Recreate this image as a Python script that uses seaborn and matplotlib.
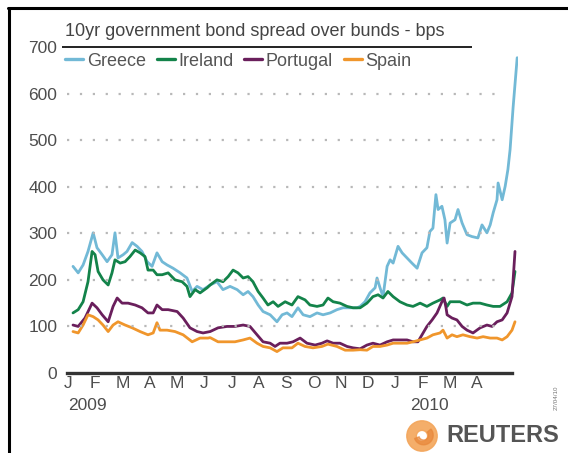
import numpy as np
import pandas as pd
import matplotlib
matplotlib.use("Agg")
import matplotlib.pyplot as plt
from matplotlib.lines import Line2D
from matplotlib.patches import Wedge, Circle
import seaborn as sns

# x = months since start of Jan 2009 (month-label positions), y = spread in bps
greece_t = [0.18, 0.37, 0.55, 0.73, 0.92, 1.06, 1.25, 1.43, 1.61, 1.72, 1.83, 2.02, 2.16, 2.35, 2.53,
            2.71, 2.90, 3.08, 3.26, 3.45, 3.63, 3.85, 4.11, 4.36, 4.55, 4.73, 4.95, 5.21, 5.46, 5.68,
            5.94, 6.20, 6.42, 6.60, 6.78, 6.97, 7.15, 7.41, 7.66, 7.85, 8.03, 8.21, 8.43, 8.62, 8.87,
            9.13, 9.35, 9.61, 9.86, 10.08, 10.34, 10.60, 10.71, 10.89, 11.07, 11.26, 11.33, 11.44, 11.55,
            11.70, 11.81, 11.92, 12.10, 12.25, 12.43, 12.61, 12.80, 12.98, 13.16, 13.27, 13.38, 13.49,
            13.57, 13.71, 13.82, 13.90, 14.01, 14.19, 14.30, 14.45, 14.63, 14.81, 15.03, 15.18, 15.36,
            15.48, 15.59, 15.73, 15.77, 15.92, 16.03, 16.13, 16.21, 16.32, 16.47]
greece_bps = [229, 215, 232, 261, 301, 269, 254, 239, 254, 301, 247, 254, 261, 280, 272,
              261, 239, 229, 258, 239, 232, 225, 215, 204, 175, 186, 179, 189, 196, 179,
              186, 179, 168, 175, 164, 146, 132, 125, 110, 125, 129, 121, 140, 125, 121,
              129, 125, 129, 136, 140, 140, 140, 143, 153, 172, 183, 204, 183, 164,
              229, 243, 236, 272, 258, 247, 236, 225, 258, 269, 304, 311, 383,
              351, 358, 329, 279, 322, 329, 351, 322, 297, 293, 290, 318, 301,
              318, 344, 372, 408, 372, 401, 437, 480, 570, 677]

ireland_t = [0.18, 0.37, 0.55, 0.73, 0.88, 0.99, 1.10, 1.28, 1.47, 1.61, 1.72, 1.91, 2.09, 2.27, 2.46,
             2.64, 2.82, 2.93, 3.12, 3.26, 3.45, 3.67, 3.92, 4.18, 4.36, 4.47, 4.66, 4.84, 5.10, 5.21,
             5.46, 5.68, 5.87, 6.05, 6.23, 6.42, 6.60, 6.78, 6.97, 7.15, 7.33, 7.52, 7.70, 7.96, 8.21,
             8.43, 8.69, 8.87, 9.13, 9.35, 9.53, 9.72, 9.97, 10.23, 10.45, 10.71, 10.96, 11.18, 11.37,
             11.55, 11.73, 11.92, 12.17, 12.43, 12.65, 12.91, 13.16, 13.38, 13.64, 13.75, 13.90, 14.01,
             14.19, 14.37, 14.63, 14.85, 15.11, 15.36, 15.59, 15.84, 16.10, 16.28, 16.39]
ireland_bps = [129, 136, 153, 196, 261, 254, 218, 200, 189, 215, 243, 236, 239, 250, 264,
               258, 250, 221, 221, 211, 211, 215, 200, 196, 186, 164, 179, 172, 183, 189,
               200, 196, 207, 221, 215, 204, 207, 196, 175, 161, 146, 153, 143, 153, 146,
               164, 157, 146, 143, 146, 161, 153, 150, 143, 140, 140, 150, 164, 168,
               161, 175, 164, 153, 146, 143, 150, 143, 150, 157, 161, 143, 153,
               153, 153, 146, 150, 150, 146, 143, 143, 153, 172, 218]

portugal_t = [0.18, 0.37, 0.62, 0.88, 1.06, 1.25, 1.47, 1.65, 1.80, 1.98, 2.20, 2.46, 2.71, 2.93, 3.12,
              3.26, 3.45, 3.67, 4.00, 4.22, 4.47, 4.73, 4.95, 5.21, 5.50, 5.83, 6.12, 6.42, 6.67, 6.93,
              7.15, 7.41, 7.59, 7.77, 8.03, 8.25, 8.51, 8.76, 9.06, 9.31, 9.50, 9.72, 9.97, 10.23, 10.45,
              10.71, 10.96, 11.18, 11.44, 11.70, 11.92, 12.17, 12.43, 12.65, 12.83, 13.02, 13.16, 13.35,
              13.53, 13.71, 13.79, 13.86, 13.90, 14.08, 14.26, 14.45, 14.63, 14.85, 15.11, 15.36, 15.55,
              15.73, 15.92, 16.10, 16.28, 16.39]
portugal_bps = [103, 100, 118, 150, 140, 125, 110, 143, 161, 150, 150, 146, 140, 129, 129,
                146, 136, 136, 132, 118, 97, 89, 86, 89, 97, 100, 100, 103, 100, 82,
                67, 64, 57, 64, 64, 67, 75, 64, 60, 64, 69, 64, 64, 57, 54,
                52, 60, 64, 60, 67, 71, 71, 71, 67, 67, 86, 100, 114,
                129, 153, 161, 140, 125, 118, 114, 100, 92, 86, 97, 103, 100,
                110, 114, 129, 164, 261]

spain_t = [0.18, 0.37, 0.55, 0.73, 0.92, 1.10, 1.28, 1.47, 1.65, 1.83, 2.09, 2.35, 2.64, 2.93, 3.12,
           3.26, 3.37, 3.63, 3.92, 4.22, 4.55, 4.84, 5.13, 5.21, 5.50, 5.83, 6.12, 6.42, 6.67, 6.93,
           7.15, 7.41, 7.66, 7.88, 8.21, 8.43, 8.69, 8.98, 9.31, 9.53, 9.86, 10.16, 10.45, 10.71, 10.96,
           11.18, 11.44, 11.70, 11.92, 12.17, 12.43, 12.65, 12.91, 13.16, 13.38, 13.64, 13.75, 13.90,
           14.08, 14.26, 14.48, 14.74, 15.00, 15.22, 15.48, 15.73, 15.92, 16.10, 16.28, 16.39]
spain_bps = [89, 86, 103, 125, 121, 114, 103, 89, 103, 110, 103, 97, 89, 82, 86,
             108, 92, 92, 89, 82, 67, 75, 75, 76, 67, 67, 67, 71, 75, 64,
             57, 54, 46, 54, 54, 64, 57, 54, 57, 62, 57, 49, 49, 50, 49,
             57, 57, 60, 64, 64, 64, 67, 71, 75, 82, 86, 92, 75,
             82, 78, 82, 78, 75, 78, 75, 75, 71, 78, 92, 110]

countries = ["Greece", "Ireland", "Portugal", "Spain"]
colors = {"Greece": "#72b9d6", "Ireland": "#13834a", "Portugal": "#6a1f5c", "Spain": "#f0962c"}

month_labels = ["J", "F", "M", "A", "M", "J", "J", "A", "S", "O", "N", "D", "J", "F", "M", "A"]
y_ticks = [0, 100, 200, 300, 400, 500, 600, 700]
title = "10yr government bond spread over bunds - bps"

frames = []
for name, t, v in [("Greece", greece_t, greece_bps), ("Ireland", ireland_t, ireland_bps),
                   ("Portugal", portugal_t, portugal_bps), ("Spain", spain_t, spain_bps)]:
    frames.append(pd.DataFrame({"t": t, "bps": v, "country": name}))
df = pd.concat(frames, ignore_index=True)

sns.set_style("white")
plt.rcParams["font.family"] = ["Liberation Sans", "DejaVu Sans"]

W, H = 568, 453
fig = plt.figure(figsize=(W / 100, H / 100), dpi=100)
fig.patch.set_facecolor("white")

def fx(px):
    return px / W

def fy(py):
    return 1 - py / H

ax = fig.add_axes([fx(67), fy(373), fx(518) - fx(67), fy(47) - fy(373)])
sns.lineplot(data=df, x="t", y="bps", hue="country", hue_order=countries, palette=colors,
             estimator=None, sort=False, linewidth=2.0, ax=ax, legend=False)

ax.set_xlim(-0.04, 16.5)
ax.set_ylim(0, 700)
for s in ["left", "right", "top"]:
    ax.spines[s].set_visible(False)
ax.spines["bottom"].set_color("#333333")
ax.spines["bottom"].set_linewidth(2.4)
ax.spines["bottom"].set_bounds(-0.04, 16.28)

tick_color = "#4d4d4d"
ax.set_xlabel("")
ax.set_ylabel("")
ax.set_yticks(y_ticks)
ax.set_yticklabels([str(v) for v in y_ticks], fontsize=12.5, color=tick_color)
ax.tick_params(axis="y", length=0, pad=7)
ax.set_xticks(range(len(month_labels)))
ax.set_xticklabels(month_labels, fontsize=12.5, color=tick_color)
ax.tick_params(axis="x", length=0, pad=2)

for v in y_ticks[1:-1]:
    ax.hlines(v, -0.04, 16.0, colors="#b8b8b8", linewidth=1.6, linestyles=(0, (1, 4.8)))
ax.hlines(700, -0.22, 14.81, colors="#222222", linewidth=1.4, clip_on=False)

ax.text(0.7, -0.1, "2009", transform=ax.get_xaxis_transform(), ha="center", va="center",
        fontsize=12.5, color=tick_color)
ax.text(13.27, -0.1, "2010", transform=ax.get_xaxis_transform(), ha="center", va="center",
        fontsize=12.5, color=tick_color)

fig.text(fx(65), fy(32), title, fontsize=13, color="#444444", ha="left", va="center")

handles = [Line2D([0], [0], color=colors[c], lw=2.4) for c in countries]
leg = fig.legend(handles, countries, loc="center left", bbox_to_anchor=(fx(65), fy(61)),
                 ncol=4, frameon=False, fontsize=13, handlelength=1.0, handletextpad=0.2,
                 columnspacing=0.6, borderaxespad=0, borderpad=0)
for txt in leg.get_texts():
    txt.set_color("#555555")

# frame lines
fig.add_artist(Line2D([fx(9), fx(9)], [fy(8), 0], color="black", lw=2.2))
fig.add_artist(Line2D([fx(8), 1], [fy(8), fy(8)], color="black", lw=2.2))

# Reuters logo
fig.text(fx(446), fy(436), "REUTERS", fontsize=17, fontweight="bold", color="#555555",
         ha="left", va="center")
lax = fig.add_axes([fx(404), fy(452), fx(440) - fx(404), fy(420) - fy(452)])
lax.set_aspect("equal")
lax.axis("off")
lax.set_xlim(-1, 1)
lax.set_ylim(-1, 1)
lax.add_patch(Wedge((0, 0), 0.95, 0, 360, width=0.6, color="#f3a55a", alpha=0.9))
lax.add_patch(Wedge((0.1, 0.05), 0.6, 200, 40, width=0.3, color="#e8873a", alpha=0.7))

fig.text(fx(556), fy(398), "27/04/10", rotation=90, fontsize=4.5, color="#777777",
         ha="center", va="center")

fig.savefig("out.png", dpi=100)
